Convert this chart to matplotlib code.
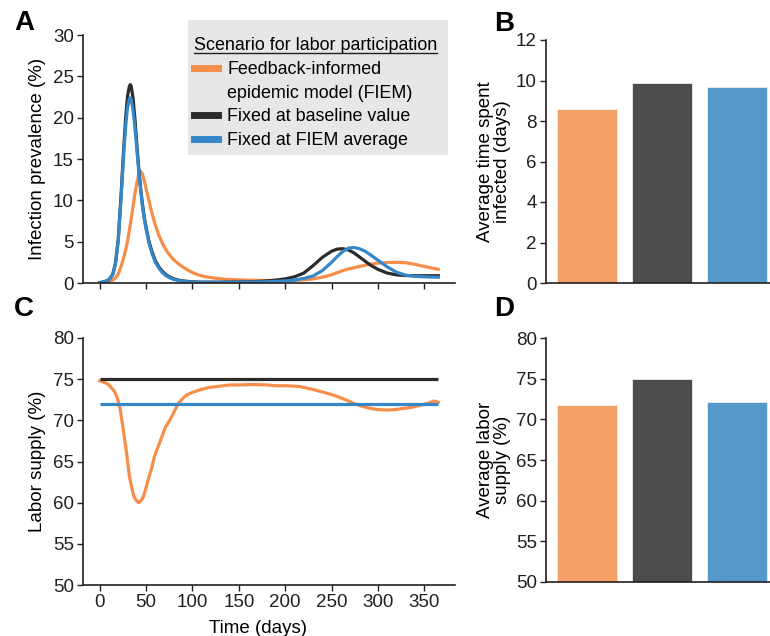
import matplotlib
matplotlib.use('Agg')
import matplotlib.pyplot as plt
from matplotlib.lines import Line2D
from matplotlib.patches import Rectangle

plt.rcParams['font.family'] = ['Liberation Sans', 'DejaVu Sans']
plt.rcParams['font.size'] = 13

# ---------------- data ----------------
scenarios = ['Feedback-informed\nepidemic model (FIEM)',
             'Fixed at baseline value',
             'Fixed at FIEM average']

days_prev = [0, 5, 10, 14, 17, 20, 23, 26, 28, 30,
             32, 33, 34, 36, 38, 40, 42, 44, 46, 48,
             50, 53, 56, 60, 64, 68, 72, 76, 80, 85,
             90, 100, 110, 120, 135, 150, 165, 180, 190, 200,
             210, 220, 230, 240, 250, 256, 262, 268, 274, 280,
             286, 292, 300, 310, 320, 330, 340, 350, 365]

prev_fiem = [0.02, 0.05, 0.15, 0.35, 0.6, 1.1, 2.0, 3.1, 4.0, 5.1,
             6.4, 7.1, 7.8, 9.3, 10.8, 12.1, 13.1, 13.5, 13.2, 12.4,
             11.4, 10.0, 8.6, 7.0, 5.7, 4.7, 3.9, 3.3, 2.8, 2.3,
             1.9, 1.25, 0.85, 0.65, 0.45, 0.38, 0.33, 0.3, 0.3, 0.3,
             0.32, 0.38, 0.5, 0.7, 1.0, 1.25, 1.5, 1.7, 1.85, 2.0,
             2.15, 2.28, 2.4, 2.48, 2.5, 2.45, 2.25, 2.0, 1.65]

prev_base = [0.05, 0.15, 0.4, 1.0, 2.4, 5.3, 10.6, 16.5, 20.0, 22.6,
             23.8, 24.0, 23.8, 22.3, 19.8, 16.8, 14.0, 11.6, 9.6, 8.0,
             6.7, 5.1, 3.9, 2.7, 1.9, 1.35, 0.95, 0.7, 0.5, 0.35,
             0.25, 0.14, 0.1, 0.1, 0.1, 0.12, 0.15, 0.25, 0.35, 0.5,
             0.75, 1.2, 2.1, 3.1, 3.85, 4.1, 4.15, 4.0, 3.65, 3.15,
             2.65, 2.15, 1.65, 1.2, 0.98, 0.9, 0.88, 0.88, 0.88]

prev_avg = [0.05, 0.15, 0.4, 1.0, 2.3, 5.1, 10.2, 15.8, 19.0, 21.2,
            22.3, 22.4, 22.2, 20.9, 18.8, 16.2, 13.7, 11.4, 9.4, 7.8,
            6.5, 4.9, 3.7, 2.5, 1.75, 1.2, 0.85, 0.6, 0.42, 0.3,
            0.2, 0.1, 0.08, 0.08, 0.08, 0.1, 0.12, 0.15, 0.2, 0.25,
            0.35, 0.55, 0.85, 1.5, 2.5, 3.2, 3.8, 4.2, 4.3, 4.15,
            3.85, 3.4, 2.75, 1.95, 1.3, 0.95, 0.8, 0.75, 0.7]

days_labor = [0, 5, 9, 13, 16, 19, 22, 25, 29, 32, 35, 37, 40, 42, 45, 47,
              50, 52, 56, 59, 63, 67, 71, 76, 80, 85, 90, 94, 100, 108, 118,
              126, 140, 150, 165, 180, 190, 202, 216, 228, 238, 248, 256,
              265, 274, 283, 292, 300, 310, 318, 328, 337, 346, 355, 360, 365]

labor_fiem = [74.8, 74.6, 74.4, 73.9, 73.5, 72.7, 71.4, 69.2, 66.0, 63.2,
              61.6, 60.7, 60.2, 60.0, 60.3, 60.7, 61.8, 62.7, 64.2, 65.6,
              66.8, 68.0, 69.2, 70.1, 71.0, 72.1, 72.7, 73.1, 73.4, 73.7,
              74.0, 74.1, 74.3, 74.3, 74.35, 74.3, 74.2, 74.2, 74.1, 73.8,
              73.5, 73.2, 72.9, 72.5, 72.05, 71.7, 71.45, 71.3, 71.25, 71.3,
              71.45, 71.6, 71.85, 72.1, 72.35, 72.2]

days_flat = [0, 365]
labor_base = [75.0, 75.0]
labor_avg = [72.0, 72.0]

avg_time_infected = [8.6, 9.9, 9.7]
avg_labor_supply = [71.8, 75.0, 72.15]

# ---------------- style ----------------
line_colors = ['#F68E4A', '#2B2B2B', '#3487C8']
bar_colors = ['#F4A066', '#4B4C4E', '#5399CB']
spine_col = '#231F20'
TICK_FS = 13.5
LABEL_FS = 13.5

W, H = 770, 636
fig = plt.figure(figsize=(W / 100, H / 100), dpi=100)


def ax_px(l, t, r, b):
    return fig.add_axes([l / W, 1 - b / H, (r - l) / W, (b - t) / H])


def style(ax):
    for s in ['top', 'right']:
        ax.spines[s].set_visible(False)
    for s in ['left', 'bottom']:
        ax.spines[s].set_linewidth(1.2)
        ax.spines[s].set_color(spine_col)
    ax.tick_params(direction='out', length=4.5, width=1.0, color=spine_col,
                   labelsize=TICK_FS, labelcolor='#231F20', pad=2)


axA = ax_px(83, 35, 455, 283)
axB = ax_px(546, 40, 770, 283)
axC = ax_px(83, 338, 455, 585)
axD = ax_px(546, 338, 770, 582)

# Panel A
hA = []
hA += axA.plot(days_prev, prev_fiem, color=line_colors[0], lw=2.3)
hA += axA.plot(days_prev, prev_base, color=line_colors[1], lw=2.3)
hA += axA.plot(days_prev, prev_avg, color=line_colors[2], lw=2.3)
axA.set_xlim(-18, 383)
axA.set_ylim(0, 30)
axA.set_yticks(range(0, 31, 5))
axA.set_xticks(range(0, 351, 50))
axA.set_xticklabels([])
axA.set_ylabel('Infection prevalence (%)', fontsize=LABEL_FS)
style(axA)
axA.yaxis.set_label_coords(-0.10, 0.5)

# Panel C
axC.plot(days_labor, labor_fiem, color=line_colors[0], lw=2.3)
axC.plot(days_flat, labor_base, color=line_colors[1], lw=2.3, solid_capstyle='butt')
axC.plot(days_flat, labor_avg, color=line_colors[2], lw=2.3, solid_capstyle='butt')
axC.set_xlim(-18, 383)
axC.set_ylim(50, 80)
axC.set_yticks(range(50, 81, 5))
axC.set_xticks(range(0, 351, 50))
axC.set_ylabel('Labor supply (%)', fontsize=LABEL_FS)
axC.set_xlabel('Time (days)', fontsize=LABEL_FS)
style(axC)
axC.yaxis.set_label_coords(-0.10, 0.5)
axC.xaxis.set_label_coords(0.47, -0.14)

# Panel B
xb = [0, 1, 2]
axB.bar(xb, avg_time_infected, width=0.8, color=bar_colors,
        edgecolor='#EDEDED', linewidth=0.6)
axB.set_xlim(-0.547, 2.44)
axB.set_ylim(0, 12)
axB.set_yticks(range(0, 13, 2))
axB.set_xticks([])
axB.set_ylabel('Average time spent\ninfected (days)', fontsize=LABEL_FS, linespacing=1.0)
style(axB)
axB.yaxis.set_label_coords(-0.155, 0.5)

# Panel D
axD.bar(xb, avg_labor_supply, width=0.8, color=bar_colors,
        edgecolor='#EDEDED', linewidth=0.6)
axD.set_xlim(-0.547, 2.44)
axD.set_ylim(50, 80)
axD.set_yticks(range(50, 81, 5))
axD.set_xticks([])
axD.set_ylabel('Average labor\nsupply (%)', fontsize=LABEL_FS, linespacing=1.0)
style(axD)
axD.yaxis.set_label_coords(-0.155, 0.5)

# Legend: grey box drawn separately, entries split so the handle sits on line one
fig.add_artist(Rectangle((188 / W, 1 - 155 / H), 260 / W, 135 / H,
                         transform=fig.transFigure, facecolor='#E6E7E8',
                         edgecolor='none', zorder=1))
first_lines = scenarios[0].split('\n')
blank = Line2D([], [], color='none')
handles = [hA[0], blank, hA[1], hA[2]]
labels = [first_lines[0], first_lines[1], scenarios[1], scenarios[2]]
leg = fig.legend(handles, labels, loc='upper left',
                 bbox_to_anchor=(194 / W, 1 - 37 / H),
                 title='Scenario for labor participation',
                 fontsize=12.9, title_fontsize=12.9, alignment='left',
                 frameon=False,
                 handlelength=1.35, handletextpad=0.5, labelspacing=0.38,
                 borderpad=0.0, borderaxespad=0)
leg.set_zorder(5)
for ln in leg.get_lines():
    ln.set_linewidth(5)

# underline title
fig.canvas.draw()
tb = leg.get_title().get_window_extent()
inv = fig.transFigure.inverted()
x0, y0 = inv.transform((tb.x0, tb.y0 + 1))
x1, _ = inv.transform((tb.x1, tb.y0 + 1))
fig.add_artist(Line2D([x0, x1], [y0, y0], transform=fig.transFigure,
                      color='#231F20', lw=1.0, zorder=10))

# Panel letters
for lab, (x, y) in {'A': (14, 10), 'B': (494, 11), 'C': (14, 296), 'D': (494, 296)}.items():
    fig.text(x / W, 1 - y / H, lab, fontsize=20, fontweight='bold',
             ha='left', va='top', color='black')

fig.savefig('out.png', dpi=100)
